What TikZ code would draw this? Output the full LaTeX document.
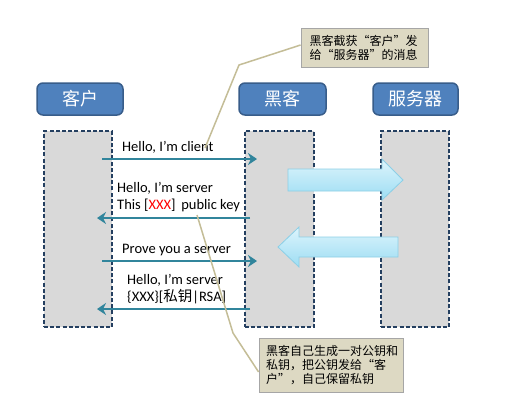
\documentclass[tikz,border=0pt]{standalone}
\usepackage{fontspec}
\setmainfont{Carlito}
\newfontfamily\cjk{Noto Sans CJK SC}
\usetikzlibrary{arrows.meta,calc}

\definecolor{hdrblue}{HTML}{4F81BD}
\definecolor{hdrborder}{HTML}{385D8A}
\definecolor{lifegray}{HTML}{D9D9D9}
\definecolor{lifeborder}{HTML}{243F60}
\definecolor{msgteal}{HTML}{31859C}
\definecolor{calloutfill}{HTML}{DDD9C3}
\definecolor{calloutborder}{HTML}{A6A6A6}
\definecolor{calloutline}{HTML}{C4BD97}
\definecolor{blocktop}{HTML}{DDF4FC}
\definecolor{blockbot}{HTML}{9CDDF3}
\definecolor{blockborder}{HTML}{8CCFE6}
\definecolor{xxxred}{HTML}{FF0000}

\begin{document}
\begin{tikzpicture}[x=1pt,y=-1pt,
  hdr/.style={draw=hdrborder, line width=1.5pt, fill=hdrblue, rounded corners=6pt,
    minimum height=32pt, text=white, font=\cjk\fontsize{18}{20}\selectfont, inner sep=0pt},
  lifeline/.style={draw=lifeborder, line width=1.8pt, dash pattern=on 4pt off 2.2pt,
    fill=lifegray, minimum width=68pt, minimum height=196pt, inner sep=0pt},
  msg/.style={draw=msgteal, line width=2.8pt,
    -{Stealth[length=9pt,width=12pt,inset=3pt]}},
  msglabel/.style={anchor=west, inner sep=0pt, align=left,
    font=\fontsize{14.5}{17}\selectfont},
  callout/.style={draw=calloutborder, line width=0.8pt, fill=calloutfill,
    inner ysep=0pt, align=left, font=\cjk\fontsize{12}{14}\selectfont},
  pointer/.style={draw=calloutline, line width=1.5pt},
  blockarrow/.style={draw=blockborder, line width=0.8pt, top color=blocktop, bottom color=blockbot}
]
\useasboundingbox (0,0) rectangle (516,418);
\fill[white] (0,0) rectangle (516,418);

% lifelines
\node[lifeline] (lc) at (78,229) {};
\node[lifeline, minimum width=69pt] (lh) at (279.5,229) {};
\node[lifeline] (ls) at (415,229) {};

% headers
\node[hdr, minimum width=86pt] (hc) at (80,99) {客户};
\node[hdr, minimum width=87pt] (hh) at (282.5,99) {黑客};
\node[hdr, minimum width=85pt] (hs) at (415.5,99) {服务器};

% block arrows (hacker <-> server)
\path[blockarrow] (288,169) -- (382,169) -- (382,159) -- (403,180) -- (382,200) -- (382,191) -- (288,191) -- cycle;
\path[blockarrow] (398,237) -- (299,237) -- (299,227) -- (278,247) -- (299,267) -- (299,257) -- (398,257) -- cycle;

% message end points
\coordinate (c1) at (102,159);  \coordinate (h1) at (257,159);
\coordinate (h2) at (250,218);  \coordinate (c2) at (97,218);
\coordinate (c3) at (102,261);  \coordinate (h3) at (257,261);
\coordinate (h4) at (250,309);  \coordinate (c4) at (97,309);

\draw[msg] (c1) -- (h1);
\draw[msg] (h2) -- (c2);
\draw[msg] (c3) -- (h3);
\draw[msg] (h4) -- (c4);

\node[msglabel] (l1) at (122,147) {Hello, I’m client};
\node[msglabel] (l2) at (117,197) {Hello, I’m server\\This [\textcolor{xxxred}{XXX}]\, public key};
\node[msglabel] (l3) at (122,250) {Prove you a server};
\node[msglabel] (l4) at (127,289) {Hello, I’m server\\\{XXX\}[{\cjk 私钥}|RSA]};

% callouts
\node[callout, minimum width=127pt, minimum height=39pt, text width=110pt, inner xsep=8.5pt] (ca) at (364.5,47.5)
  {黑客截获“客户”发\\给“服务器”的消息};
\node[callout, minimum width=144pt, minimum height=54pt, text width=130pt, inner xsep=7pt] (cb) at (331,365)
  {黑客自己生成一对公钥和\\私钥，把公钥发给“客\\户”，自己保留私钥};

\coordinate (pa1) at (239,65); \coordinate (pa2) at (205,148);
\coordinate (pb1) at (233,333); \coordinate (pb2) at (197,215);
\draw[pointer] ([yshift=2.5pt]ca.west) -- (pa1) -- (pa2);
\draw[pointer] ([yshift=-7pt]cb.west) -- (pb1) -- (pb2);
\end{tikzpicture}
\end{document}
